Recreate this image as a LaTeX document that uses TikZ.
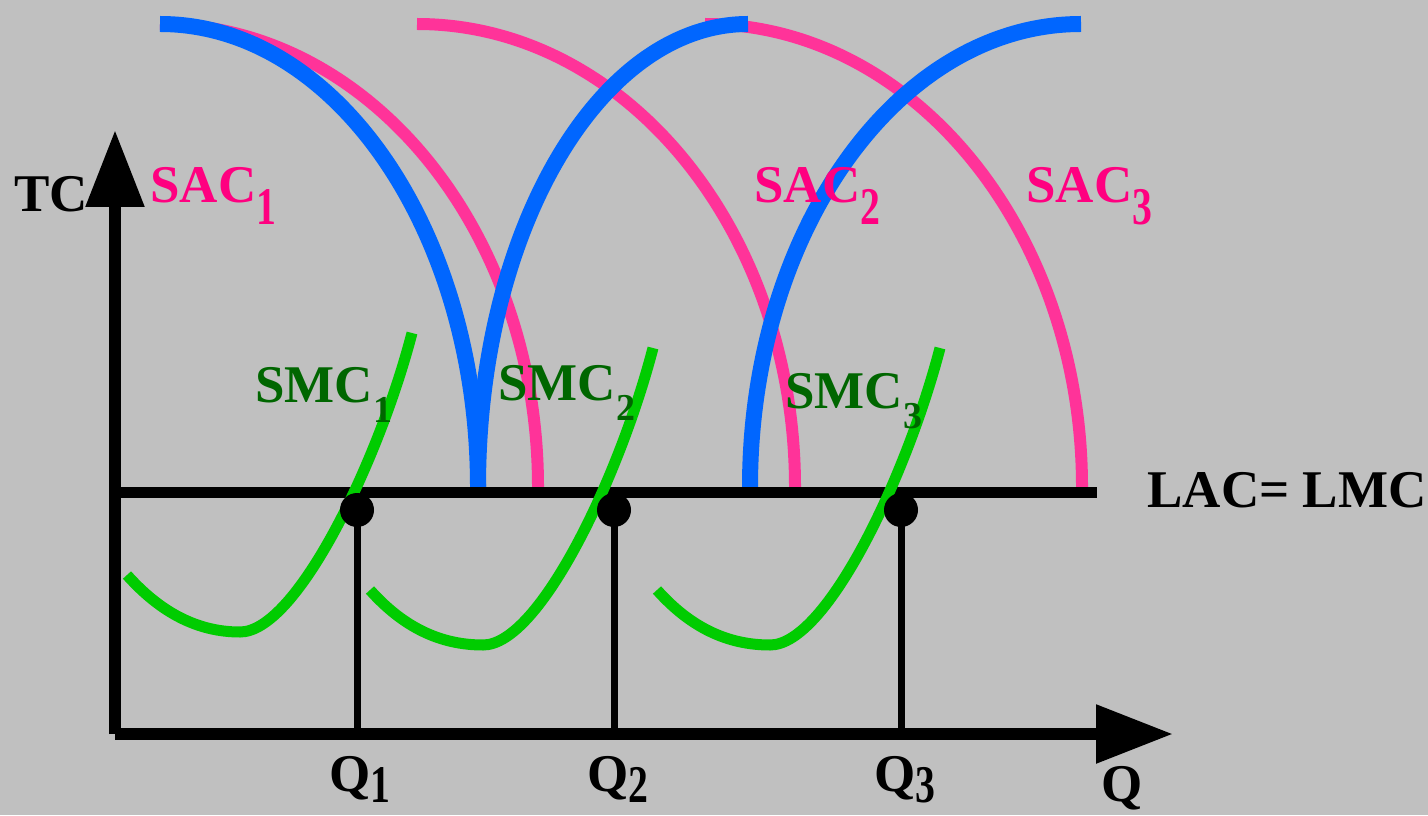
\documentclass[tikz,border=0pt]{standalone}
\usepackage{fontspec}
\setmainfont{Liberation Serif}
\usetikzlibrary{arrows.meta}
\definecolor{bggray}{HTML}{C0C0C0}
\definecolor{sacpink}{HTML}{FF3399}
\definecolor{sactext}{HTML}{FF0080}
\definecolor{lacblue}{HTML}{0066FF}
\definecolor{smcgreen}{HTML}{00CC00}
\definecolor{smctext}{HTML}{006600}
\newcommand{\lowsub}[2]{\raisebox{-#1em}{\scalebox{0.75}[1]{#2}}}
\newcommand{\smcsub}[1]{\raisebox{-0.38em}{\fontsize{19}{19}\selectfont #1}}
\tikzset{
  lbl/.style={anchor=base west, inner sep=0pt, font=\bfseries\fontsize{26.5}{30}\selectfont},
  axis/.style={line width=6pt, -{Triangle[length=38.5pt,width=28pt]}},
  sac/.style={sacpink, line width=6pt},
  lacarc/.style={lacblue, line width=8pt},
  smc/.style={smcgreen, line width=5.5pt},
}
\begin{document}
\begin{tikzpicture}[x=0.5pt,y=0.5pt]
\useasboundingbox[fill=bggray] (0,0) rectangle (1428,815);
\coordinate (O) at (115,81);
\coordinate (ytop) at (115,685);
\coordinate (xend) at (1173,81);
\coordinate (lacL) at (115,322.5);
\coordinate (lacR) at (1097,322.5);
\coordinate (q1) at (357,305);
\coordinate (q2) at (614,305);
\coordinate (q3) at (901,305);
\draw[sac] (160,791) arc[start angle=90, end angle=0, x radius=378, y radius=463];
\draw[sac] (417,791) arc[start angle=90, end angle=0, x radius=378, y radius=463];
\draw[sac] (705,791) arc[start angle=90, end angle=0, x radius=377, y radius=463];
\draw[lacarc] (160,791) arc[start angle=90, end angle=0, x radius=318, y radius=463];
\draw[lacarc] (478,328) arc[start angle=180, end angle=90, x radius=270, y radius=463];
\draw[lacarc] (750,328) arc[start angle=180, end angle=90, x radius=331, y radius=463];
\draw[line width=5.5pt] (lacL) -- (lacR);
\draw[smc] (127,240) .. controls (160,203) and (197,183) .. (240,183)
  .. controls (297,183) and (379,355) .. (412,482);
\draw[smc] (370,225) .. controls (403,188) and (440,170) .. (483,170)
  .. controls (540,170) and (620,340) .. (653,467);
\draw[smc] (657,225) .. controls (690,188) and (727,170) .. (770,170)
  .. controls (827,170) and (907,340) .. (940,467);
\foreach \q in {q1,q2,q3}{
  \fill (\q) circle (17);
  \draw[line width=3.5pt] (\q) -- (\q |- O);
}
\draw[axis] (O) -- (ytop);
\draw[axis] (O) -- (xend);
\node[lbl] (tc) at (14,603) {TC};
\node[lbl, sactext] (sac1) at (150,612) {SAC\lowsub{0.4}{1}};
\node[lbl, sactext] (sac2) at (754,612) {SAC\lowsub{0.4}{2}};
\node[lbl, sactext] (sac3) at (1026,612) {SAC\lowsub{0.4}{3}};
\node[lbl, smctext] (smc1) at (255,413) {SMC\smcsub{1}};
\node[lbl, smctext] (smc2) at (498,415) {SMC\smcsub{2}};
\node[lbl, smctext] (smc3) at (785,407) {SMC\smcsub{3}};
\node[lbl] (lac) at (1147,308) {LAC= LMC};
\node[lbl] (lq1) at (329,24) {Q\lowsub{0.22}{1}};
\node[lbl] (lq2) at (587,24) {Q\lowsub{0.22}{2}};
\node[lbl] (lq3) at (874,24) {Q\lowsub{0.22}{3}};
\node[lbl] (lq) at (1101,14) {Q};
\end{tikzpicture}
\end{document}
